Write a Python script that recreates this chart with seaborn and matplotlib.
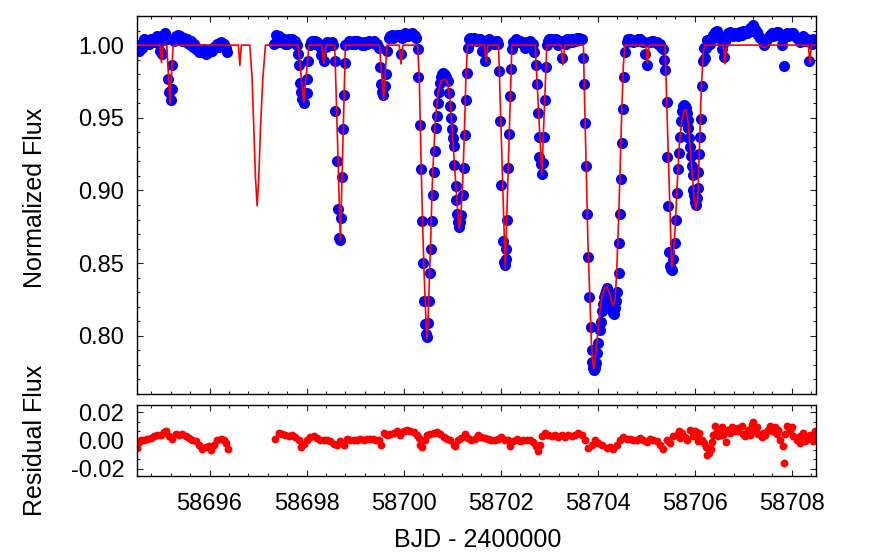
import matplotlib
matplotlib.use("Agg")
import matplotlib.pyplot as plt
from matplotlib.ticker import MultipleLocator, AutoMinorLocator, FormatStrFormatter
import numpy as np
import pandas as pd
import seaborn as sns

# ---------------- data ----------------
# observed light curve (BJD - 2400000, normalized flux)
obs_time_1 = [58694.525, 58694.54, 58694.58, 58694.61, 58694.65, 58694.69, 58694.72, 58694.76,
              58694.79, 58694.85, 58694.88, 58694.92, 58694.98, 58695.00, 58695.03, 58695.03,
              58695.08, 58695.115, 58695.142, 58695.163, 58695.197, 58695.232, 58695.232, 58695.27,
              58695.30, 58695.33, 58695.35, 58695.40, 58695.44, 58695.47, 58695.51, 58695.54,
              58695.58, 58695.61, 58695.65, 58695.68, 58695.72, 58695.75, 58695.79, 58695.82,
              58695.85, 58695.88, 58695.92, 58695.95, 58695.99, 58696.02, 58696.06, 58696.09,
              58696.13, 58696.16, 58696.20, 58696.23, 58696.27, 58696.30, 58696.33, 58696.36]
obs_flux_1 = [0.999, 0.996, 1.001, 0.998, 1.004, 1.001, 1.003, 1.001,
              1.004, 1.004, 1.002, 1.006, 0.996, 1.003, 1.006, 0.994,
              1.008, 1.004, 0.977, 0.968, 0.962, 0.970, 0.986, 1.003,
              1.006, 1.004, 1.007, 1.006, 1.003, 1.005, 1.002, 1.004,
              1.001, 1.003, 0.999, 1.001, 0.997, 0.998, 0.995, 0.996,
              0.995, 0.997, 0.994, 0.996, 0.995, 0.997, 0.996, 0.999,
              0.999, 1.001, 0.999, 1.002, 1.000, 1.001, 0.998, 0.995]

obs_time_2 = [58697.324, 58697.37, 58697.40, 58697.427, 58697.46, 58697.482, 58697.51, 58697.537,
              58697.565, 58697.592, 58697.62, 58697.647, 58697.675, 58697.70, 58697.73, 58697.756,
              58697.78, 58697.80, 58697.825, 58697.853, 58697.873, 58697.894, 58697.914, 58697.955,
              58698.004, 58698.01, 58698.024, 58698.065, 58698.09, 58698.113, 58698.15, 58698.18,
              58698.22, 58698.25, 58698.28, 58698.305, 58698.36, 58698.39, 58698.42, 58698.45,
              58698.49, 58698.52, 58698.54, 58698.58, 58698.594, 58698.621, 58698.648, 58698.676,
              58698.697, 58698.71, 58698.73, 58698.752, 58698.772, 58698.786, 58698.80, 58698.834,
              58698.87, 58698.90, 58698.935, 58698.97, 58699.00, 58699.04, 58699.075, 58699.11,
              58699.14, 58699.177, 58699.21, 58699.245, 58699.28, 58699.314, 58699.35, 58699.382,
              58699.42, 58699.451, 58699.485, 58699.52, 58699.533, 58699.554, 58699.575, 58699.616,
              58699.63, 58699.65, 58699.691, 58699.725, 58699.76, 58699.79, 58699.828, 58699.86,
              58699.897, 58699.945, 58699.97, 58700.00, 58700.035, 58700.069, 58700.10, 58700.137,
              58700.17, 58700.206, 58700.235, 58700.26, 58700.288]
obs_flux_2 = [1.001, 1.007, 1.003, 1.006, 1.002, 1.005, 1.002, 1.004,
              1.001, 1.001, 1.003, 1.004, 1.002, 1.004, 1.002, 1.003,
              1.001, 1.000, 0.994, 0.986, 0.974, 0.968, 0.963, 0.960,
              0.967, 0.977, 0.989, 1.000, 1.002, 1.003, 1.001, 1.003,
              1.002, 1.001, 0.999, 0.993, 0.989, 0.999, 1.002, 1.000,
              1.001, 1.002, 1.000, 0.989, 0.955, 0.920, 0.887, 0.867,
              0.866, 0.881, 0.909, 0.942, 0.966, 0.988, 1.000, 1.001,
              1.003, 1.002, 1.001, 1.003, 1.001, 1.003, 1.002, 1.002,
              1.000, 1.000, 1.002, 1.001, 1.003, 1.002, 1.002, 1.003,
              1.001, 1.001, 0.998, 0.985, 0.973, 0.968, 0.966, 0.972,
              0.980, 0.996, 1.005, 1.006, 1.007, 1.005, 1.006, 1.007,
              1.007, 0.994, 1.005, 1.007, 1.008, 1.007, 1.006, 1.007,
              1.008, 1.007, 1.006, 1.005, 0.997]

obs_time_3 = [58700.302, 58700.329, 58700.35, 58700.371, 58700.391, 58700.412, 58700.432, 58700.455,
              58700.475, 58700.495, 58700.515, 58700.542, 58700.563, 58700.576, 58700.597, 58700.617,
              58700.638, 58700.659, 58700.679, 58700.70, 58700.72, 58700.741, 58700.769, 58700.79,
              58700.81, 58700.835, 58700.858, 58700.88, 58700.906, 58700.926, 58700.947, 58700.975,
              58700.988, 58701.01, 58701.029, 58701.043, 58701.07, 58701.084, 58701.098, 58701.119,
              58701.146, 58701.165, 58701.187, 58701.221, 58701.235, 58701.256, 58701.276, 58701.297,
              58701.318, 58701.34, 58701.372, 58701.41, 58701.44, 58701.475, 58701.51, 58701.544,
              58701.58, 58701.613, 58701.64, 58701.668, 58701.70, 58701.75, 58701.785, 58701.82,
              58701.855, 58701.888, 58701.92, 58701.943, 58701.97, 58701.99, 58702.011, 58702.039,
              58702.059, 58702.087, 58702.10, 58702.114, 58702.135, 58702.155, 58702.176, 58702.196,
              58702.217, 58702.231, 58702.26, 58702.286, 58702.32, 58702.354, 58702.39, 58702.437,
              58702.47, 58702.505, 58702.54, 58702.574, 58702.61, 58702.656, 58702.697, 58702.725,
              58702.745, 58702.759, 58702.78, 58702.80, 58702.828, 58702.848, 58702.869, 58702.896,
              58702.917, 58702.931, 58702.951]
obs_flux_3 = [0.978, 0.945, 0.915, 0.879, 0.850, 0.824, 0.808, 0.801,
              0.799, 0.809, 0.824, 0.843, 0.860, 0.879, 0.897, 0.913,
              0.927, 0.943, 0.951, 0.960, 0.9675, 0.974, 0.978, 0.980,
              0.981, 0.980, 0.9796, 0.978, 0.975, 0.967, 0.958, 0.950,
              0.942, 0.936, 0.9305, 0.9175, 0.903, 0.8935, 0.8837, 0.878,
              0.875, 0.878, 0.883, 0.897, 0.9156, 0.9385, 0.9625, 0.9807,
              0.998, 1.004, 1.005, 1.003, 1.005, 1.004, 1.003, 1.004,
              1.004, 0.996, 1.003, 0.989, 0.999, 1.004, 1.003, 1.003,
              1.001, 1.002, 1.003, 1.001, 0.982, 0.948, 0.904, 0.865,
              0.851, 0.849, 0.853, 0.860, 0.880, 0.9156, 0.939, 0.965,
              0.9836, 0.997, 1.002, 1.003, 1.004, 1.002, 1.003, 1.002,
              1.001, 0.998, 1.002, 1.001, 1.003, 1.001, 0.995, 0.986,
              0.973, 0.953, 0.937, 0.923, 0.918, 0.911, 0.919, 0.937,
              0.9624, 0.985, 1.000]

obs_time_4 = [58702.975, 58702.999, 58703.035, 58703.068, 58703.10, 58703.136, 58703.165, 58703.19,
              58703.24, 58703.274, 58703.31, 58703.342, 58703.375, 58703.41, 58703.445, 58703.479,
              58703.51, 58703.548, 58703.58, 58703.617, 58703.645, 58703.672, 58703.699, 58703.713,
              58703.74, 58703.761, 58703.781, 58703.809, 58703.83, 58703.857, 58703.877, 58703.891,
              58703.91, 58703.925, 58703.945, 58703.966, 58703.994, 58704.015, 58704.049, 58704.069,
              58704.09, 58704.104, 58704.131, 58704.15, 58704.172, 58704.195, 58704.22, 58704.245,
              58704.268, 58704.29, 58704.31, 58704.337, 58704.355, 58704.378, 58704.406, 58704.433,
              58704.447, 58704.461, 58704.474, 58704.495, 58704.515, 58704.536, 58704.557, 58704.598,
              58704.63, 58704.666, 58704.70, 58704.735, 58704.77, 58704.804, 58704.84, 58704.872,
              58704.905, 58704.941, 58704.975, 58705.023, 58705.05, 58705.078, 58705.11, 58705.147,
              58705.18, 58705.215, 58705.25, 58705.284, 58705.31, 58705.339, 58705.365, 58705.387]
obs_flux_4 = [1.003, 1.004, 1.003, 1.004, 1.003, 1.004, 1.002, 1.000,
              1.003, 0.991, 1.002, 1.001, 1.004, 1.003, 1.004, 1.002,
              1.004, 1.003, 1.005, 1.005, 1.004, 1.004, 0.991, 0.973,
              0.9465, 0.917, 0.884, 0.854, 0.827, 0.806, 0.790, 0.782,
              0.778, 0.7764, 0.778, 0.781, 0.788, 0.795, 0.804, 0.8095,
              0.817, 0.822, 0.827, 0.829, 0.831, 0.833, 0.830, 0.826,
              0.822, 0.818, 0.816, 0.815, 0.819, 0.824, 0.830, 0.843,
              0.864, 0.884, 0.908, 0.933, 0.956, 0.978, 0.9955, 1.002,
              1.004, 1.004, 1.003, 1.002, 1.003, 1.003, 1.004, 1.004,
              1.003, 1.002, 0.994, 0.986, 1.002, 1.002, 1.003, 1.003,
              1.002, 1.002, 1.001, 1.001, 0.999, 0.997, 0.990, 0.983]

obs_time_5 = [58705.421, 58705.435, 58705.455, 58705.476, 58705.49, 58705.505, 58705.524, 58705.558,
              58705.593, 58705.613, 58705.641, 58705.661, 58705.675, 58705.696, 58705.71, 58705.737,
              58705.758, 58705.778, 58705.80, 58705.819, 58705.835, 58705.853, 58705.87, 58705.888,
              58705.905, 58705.922, 58705.94, 58705.956, 58705.97, 58705.985, 58705.998, 58706.012,
              58706.025, 58706.04, 58706.059, 58706.075, 58706.094, 58706.108, 58706.121, 58706.142,
              58706.162, 58706.19, 58706.21, 58706.225, 58706.245, 58706.28, 58706.313, 58706.345,
              58706.38, 58706.415, 58706.45, 58706.485, 58706.519, 58706.553, 58706.58, 58706.608,
              58706.63, 58706.656, 58706.69, 58706.725, 58706.76, 58706.793, 58706.83, 58706.862,
              58706.895, 58706.93, 58706.965, 58706.999, 58707.03, 58707.068, 58707.10, 58707.136,
              58707.17, 58707.205, 58707.24, 58707.274, 58707.31, 58707.342, 58707.385, 58707.431,
              58707.47, 58707.514, 58707.55, 58707.582, 58707.615, 58707.651, 58707.685, 58707.72,
              58707.755, 58707.788, 58707.81, 58707.843, 58707.865, 58707.891, 58707.925, 58707.96,
              58707.995, 58708.028, 58708.06, 58708.097, 58708.13, 58708.166, 58708.20, 58708.234,
              58708.27, 58708.303, 58708.35, 58708.375, 58708.406, 58708.44, 58708.474]
obs_flux_5 = [0.961, 0.923, 0.889, 0.858, 0.848, 0.846, 0.845, 0.853,
              0.864, 0.880, 0.898, 0.9145, 0.926, 0.937, 0.9476, 0.9545,
              0.958, 0.959, 0.958, 0.9567, 0.953, 0.9488, 0.943, 0.936,
              0.930, 0.924, 0.917, 0.9106, 0.900, 0.897, 0.895, 0.892,
              0.890, 0.895, 0.902, 0.913, 0.925, 0.937, 0.949, 0.972,
              0.989, 0.998, 0.991, 0.998, 1.0035, 1.001, 1.001, 1.005,
              1.007, 1.009, 1.010, 1.007, 1.004, 0.997, 1.001, 0.992,
              1.003, 1.006, 1.008, 1.009, 1.007, 1.006, 1.008, 1.008,
              1.006, 1.009, 1.007, 1.010, 1.008, 1.008, 1.009, 1.0115,
              1.010, 1.0138, 1.011, 1.009, 1.007, 1.005, 1.004, 1.000,
              1.003, 1.005, 1.007, 1.008, 1.006, 1.007, 1.009, 1.009,
              1.006, 1.000, 1.004, 0.9853, 1.007, 1.008, 1.006, 1.007,
              1.008, 1.008, 1.006, 1.005, 1.004, 1.002, 1.005, 1.006,
              1.003, 1.004, 0.989, 1.003, 1.001, 1.004, 1.002]

# binary model curve (key points)
model_time = [58694.50, 58694.975, 58695.01, 58695.045, 58695.12, 58695.185, 58695.25,
              58696.595, 58696.625, 58696.655,
              58696.83, 58696.878, 58696.913, 58696.947, 58696.981, 58697.015, 58697.05, 58697.098, 58697.153,
              58697.825, 58697.94, 58698.05,
              58698.31, 58698.353, 58698.40,
              58698.58, 58698.697, 58698.80,
              58699.50, 58699.588, 58699.657,
              58699.91, 58699.945, 58699.985,
              58700.288, 58700.323, 58700.343, 58700.364, 58700.391, 58700.425, 58700.46, 58700.48,
              58700.501, 58700.528, 58700.556, 58700.583, 58700.617, 58700.659, 58700.707, 58700.769,
              58700.844, 58700.906, 58700.961, 58701.002, 58701.043, 58701.084, 58701.119, 58701.146,
              58701.18, 58701.215, 58701.249, 58701.283, 58701.318,
              58701.665, 58701.70, 58701.74,
              58701.956, 58702.094, 58702.231,
              58702.711, 58702.848, 58702.951,
              58703.245, 58703.281, 58703.32,
              58703.705, 58703.72, 58703.80, 58703.87, 58703.90, 58703.925, 58703.98, 58704.028,
              58704.083, 58704.138, 58704.186, 58704.234, 58704.289, 58704.323, 58704.358, 58704.392,
              58704.426, 58704.461, 58704.495, 58704.529, 58704.563,
              58704.99, 58705.023, 58705.06,
              58705.387, 58705.524, 58705.558, 58705.60, 58705.641, 58705.682, 58705.73, 58705.778,
              58705.819, 58705.86, 58705.901, 58705.943, 58705.984, 58706.025, 58706.059, 58706.094,
              58706.135, 58706.176, 58706.21,
              58706.59, 58706.622, 58706.655,
              58707.37, 58707.40, 58707.46, 58707.50,
              58708.34, 58708.371, 58708.405, 58708.50]
model_flux = [1.000, 1.000, 0.988, 1.000, 1.000, 0.960, 1.000,
              1.000, 0.986, 1.000,
              1.000, 0.9771, 0.943, 0.9088, 0.8894, 0.9088, 0.943, 0.9771, 1.000,
              1.000, 0.9605, 1.000,
              1.000, 0.9876, 1.000,
              1.000, 0.8655, 1.000,
              1.000, 0.9624, 1.000,
              1.000, 0.987, 1.000,
              1.000, 0.9773, 0.9453, 0.9134, 0.8768, 0.8403, 0.8106, 0.7981,
              0.8095, 0.8357, 0.8631, 0.8974, 0.9248, 0.9499, 0.967, 0.975,
              0.9766, 0.9739, 0.9613, 0.9408, 0.9202, 0.8997, 0.8837, 0.8734,
              0.8837, 0.9042, 0.9362, 0.9773, 1.000,
              1.000, 0.9887, 1.000,
              1.000, 0.846, 1.000,
              1.000, 0.911, 1.000,
              1.000, 0.9864, 1.000,
              1.000, 0.975, 0.862, 0.795, 0.781, 0.7775, 0.7946, 0.8129,
              0.8266, 0.8323, 0.8339, 0.830, 0.8231, 0.8209, 0.8243, 0.8449,
              0.8768, 0.9134, 0.9545, 0.9864, 1.000,
              1.000, 0.9875, 1.000,
              1.000, 0.8471, 0.855, 0.8768, 0.9065, 0.9316, 0.9476, 0.9549,
              0.9556, 0.9476, 0.9316, 0.9134, 0.8962, 0.8864, 0.8951, 0.9271,
              0.9704, 0.9955, 1.000,
              1.000, 0.987, 1.000,
              1.000, 0.9985, 0.9985, 1.000,
              1.000, 0.9875, 1.000, 1.000]

# residuals (observed - model)
res_time_1 = [58694.511, 58694.511, 58694.545, 58694.58, 58694.648, 58694.717, 58694.786, 58694.854,
              58694.923, 58694.992, 58695.06, 58695.094, 58695.163, 58695.232, 58695.30, 58695.369,
              58695.438, 58695.506, 58695.575, 58695.643, 58695.712, 58695.781, 58695.849, 58695.918,
              58695.987, 58696.021, 58696.09, 58696.158, 58696.227, 58696.295, 58696.343, 58696.378]
res_val_1 = [-0.002, -0.005, -0.001, 0.0006, 0.000, 0.0013, 0.0018, 0.003,
             0.004, 0.0036, 0.0058, 0.0069, 0.003, 0.0013, 0.0046, 0.0036,
             0.0046, 0.003, 0.0018, 0.0006, -0.0006, -0.003, -0.0058, -0.0048,
             -0.0041, -0.0065, -0.003, 0.000, 0.0013, 0.0006, -0.0018, -0.0058]

res_time_2 = [58697.359, 58697.427, 58697.496, 58697.565, 58697.633, 58697.702, 58697.77, 58697.839,
              58697.887, 58697.942, 58698.011, 58698.079, 58698.148, 58698.216, 58698.285, 58698.354,
              58698.422, 58698.491, 58698.56, 58698.628, 58698.697, 58698.765, 58698.834, 58698.903,
              58698.971, 58699.04, 58699.108, 58699.177, 58699.246, 58699.30, 58699.37, 58699.43,
              58699.485, 58699.54, 58699.588, 58699.657, 58699.726, 58699.794, 58699.863, 58699.931,
              58700.00, 58700.069, 58700.137, 58700.206, 58700.275, 58700.309, 58700.343, 58700.377,
              58700.432, 58700.48, 58700.549, 58700.618, 58700.686, 58700.755, 58700.823, 58700.892,
              58700.961, 58701.029, 58701.064, 58701.119, 58701.187, 58701.256, 58701.324, 58701.393,
              58701.462, 58701.53, 58701.599, 58701.667, 58701.736, 58701.805, 58701.873, 58701.942,
              58702.011, 58702.079, 58702.148, 58702.196, 58702.264, 58702.333, 58702.402, 58702.47,
              58702.539, 58702.608, 58702.676, 58702.724, 58702.765, 58702.813, 58702.848, 58702.916]
res_val_2 = [0.0013, 0.0053, 0.0046, 0.0036, 0.003, 0.004, 0.0022, 0.000,
             -0.0048, -0.0025, 0.000, 0.0022, 0.003, 0.0018, 0.0006, 0.0006,
             0.000, -0.0006, -0.0025, -0.0034, -0.0006, -0.003, 0.0013, 0.000,
             0.0006, 0.000, 0.0013, 0.0006, 0.0013, 0.0008, 0.0013, 0.0005,
             0.000, -0.003, 0.0053, 0.0036, 0.0046, 0.0053, 0.0065, 0.0036,
             0.0065, 0.0076, 0.0069, 0.006, 0.004, 0.0018, -0.003, -0.0048,
             0.000, 0.0036, 0.0046, 0.0053, 0.006, 0.0046, 0.0022, 0.0013,
             0.000, -0.003, -0.0041, 0.000, 0.0018, 0.0046, 0.0018, 0.000,
             0.0013, 0.0036, 0.0022, 0.0018, 0.0013, 0.0006, 0.000, 0.0013,
             0.0022, 0.0006, 0.000, -0.0041, -0.0006, 0.0013, -0.0006, 0.0006,
             0.000, 0.0006, -0.001, -0.0041, -0.0076, -0.003, 0.003, 0.0053]

res_time_3 = [58702.985, 58703.054, 58703.122, 58703.191, 58703.259, 58703.328, 58703.397, 58703.465,
              58703.534, 58703.602, 58703.671, 58703.74, 58703.808, 58703.877, 58703.945, 58704.014,
              58704.083, 58704.186, 58704.255, 58704.323, 58704.392, 58704.461, 58704.529, 58704.598,
              58704.667, 58704.735, 58704.804, 58704.872, 58704.941, 58705.01, 58705.078, 58705.147,
              58705.215, 58705.284, 58705.353, 58705.421, 58705.49, 58705.559, 58705.627, 58705.682,
              58705.696, 58705.73, 58705.799, 58705.833, 58705.847, 58705.902, 58705.97, 58706.005,
              58706.039, 58706.073, 58706.094, 58706.142, 58706.19, 58706.231, 58706.258, 58706.30,
              58706.327, 58706.355, 58706.382, 58706.416, 58706.451, 58706.485, 58706.519, 58706.553]
res_val_3 = [0.0036, 0.003, 0.0036, 0.0022, 0.0036, 0.0022, 0.0036, 0.003,
             0.004, 0.0053, 0.0036, 0.000, -0.0053, -0.003, 0.000, -0.0018,
             -0.0034, -0.0053, -0.0048, -0.0058, -0.003, 0.0006, 0.0022, 0.0013,
             0.0013, 0.000, 0.0006, 0.0018, 0.0006, -0.001, 0.0013, 0.0006,
             -0.0006, -0.0034, -0.0058, 0.000, -0.0018, 0.003, 0.0036, 0.0069,
             0.0018, 0.0053, 0.0022, 0.000, 0.0013, 0.0076, 0.003, 0.0065,
             0.0046, -0.0006, 0.0053, 0.0006, -0.0018, -0.0048, -0.0104, -0.0088,
             -0.0058, -0.001, 0.0036, 0.010, 0.0065, 0.003, 0.0069, 0.0093]

res_time_4 = [58706.588, 58706.643, 58706.691, 58706.725, 58706.759, 58706.828, 58706.862, 58706.897,
              58706.965, 58707.00, 58707.034, 58707.102, 58707.137, 58707.171, 58707.205, 58707.24,
              58707.274, 58707.308, 58707.377, 58707.411, 58707.445, 58707.514, 58707.548, 58707.583,
              58707.651, 58707.686, 58707.72, 58707.754, 58707.809, 58707.843, 58707.857, 58707.891,
              58707.96, 58707.994, 58708.029, 58708.097, 58708.166, 58708.166, 58708.234, 58708.269,
              58708.303, 58708.372, 58708.406, 58708.44, 58708.474, 58708.48]
res_val_4 = [0.004, -0.001, 0.0076, 0.0053, 0.0093, 0.0065, 0.0065, 0.0088,
             0.010, 0.0046, 0.003, 0.0076, 0.0036, 0.0107, 0.013, 0.0065,
             0.0093, 0.0046, 0.0022, 0.0053, 0.0036, 0.0076, 0.010, 0.0065,
             0.0093, 0.0046, 0.0076, 0.0006, -0.0041, -0.0158, 0.0046, 0.010,
             0.0065, 0.0093, 0.003, 0.0006, 0.003, -0.0018, 0.0053, -0.0006,
             0.0013, 0.004, 0.003, -0.0006, 0.0065, 0.0013]

x_ticks = [58696, 58698, 58700, 58702, 58704, 58706, 58708]
flux_ticks = [0.80, 0.85, 0.90, 0.95, 1.00]
res_ticks = [-0.02, 0.00, 0.02]

# ---------------- build tables ----------------
obs = pd.DataFrame({
    "time": obs_time_1 + obs_time_2 + obs_time_3 + obs_time_4 + obs_time_5,
    "flux": obs_flux_1 + obs_flux_2 + obs_flux_3 + obs_flux_4 + obs_flux_5,
})
model = pd.DataFrame({"time": model_time, "flux": model_flux})
res = pd.DataFrame({
    "time": res_time_1 + res_time_2 + res_time_3 + res_time_4,
    "res": res_val_1 + res_val_2 + res_val_3 + res_val_4,
})

# ---------------- plot ----------------
sns.set_theme(style="white")
plt.rcParams['font.family'] = ['Liberation Sans', 'DejaVu Sans']
plt.rcParams['text.color'] = 'black'
FS = 17
FS_LABEL = 18

fig = plt.figure(figsize=(8.76, 5.6), dpi=100)
ax1 = fig.add_axes([0.1561, 0.2964, 0.7755, 0.6750])
ax2 = fig.add_axes([0.1561, 0.1500, 0.7755, 0.1268])

sns.scatterplot(data=obs, x="time", y="flux", ax=ax1, color="#0000ff", s=64,
                linewidth=0, zorder=2, legend=False)
sns.lineplot(data=model, x="time", y="flux", ax=ax1, color="#ff0000", lw=1.2,
             sort=False, estimator=None, zorder=3, legend=False)
sns.scatterplot(data=res, x="time", y="res", ax=ax2, color="#ff0000", s=32,
                linewidth=0, zorder=2, legend=False)

for ax in (ax1, ax2):
    ax.set_xlim(58694.5, 58708.5)
    ax.set_xticks(x_ticks)
    ax.xaxis.set_minor_locator(AutoMinorLocator(5))
    ax.tick_params(which="both", direction="in", top=True, right=True,
                   bottom=True, left=True, colors="#222222", labelcolor="black",
                   labelsize=FS)
    ax.tick_params(which="major", length=4.5, width=0.8)
    ax.tick_params(which="minor", length=2.3, width=0.8)
    ax.tick_params(axis="y", pad=9)
    ax.tick_params(axis="x", pad=12)
    for sp in ax.spines.values():
        sp.set_color("black")
        sp.set_linewidth(1.0)
    ax.set_xlabel("")
    ax.set_ylabel("")

ax1.set_ylim(0.76, 1.02)
ax1.set_yticks(flux_ticks)
ax1.yaxis.set_minor_locator(AutoMinorLocator(5))
ax1.yaxis.set_major_formatter(FormatStrFormatter("%.2f"))
ax1.tick_params(axis="x", labelbottom=False)

ax2.set_ylim(-0.025, 0.025)
ax2.set_yticks(res_ticks)
ax2.yaxis.set_minor_locator(AutoMinorLocator(3))
ax2.yaxis.set_major_formatter(FormatStrFormatter("%.2f"))
ax2.xaxis.set_major_formatter(FormatStrFormatter("%d"))

fig.text(35 / 876, 1 - 198 / 560, "Normalized Flux", rotation=90,
         ha="center", va="center", fontsize=FS_LABEL, color="black")
fig.text(35 / 876, 1 - 440 / 560, "Residual Flux", rotation=90,
         ha="center", va="center", fontsize=FS_LABEL, color="black")
fig.text(478 / 876, 1 - 540 / 560, "BJD - 2400000", ha="center", va="center",
         fontsize=FS_LABEL, color="black")

fig.savefig("out.png", dpi=100)
